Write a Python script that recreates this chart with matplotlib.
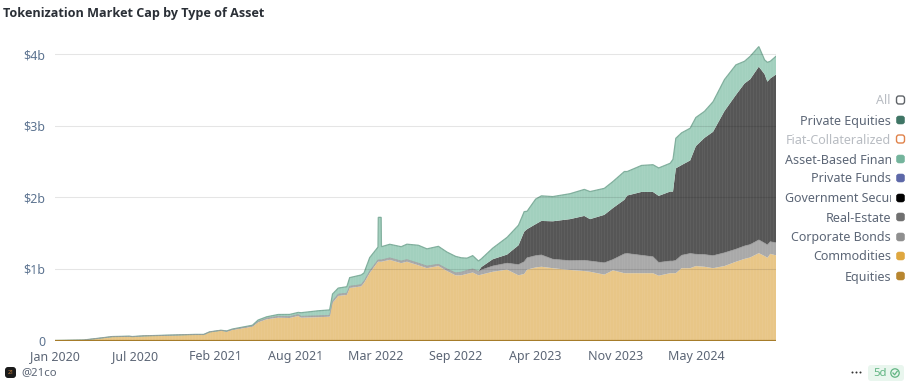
import matplotlib
matplotlib.use("Agg")
import matplotlib.pyplot as plt
import numpy as np
from matplotlib.patches import FancyBboxPatch, Circle
from matplotlib.transforms import Bbox

plt.rcParams['font.family'] = ['Noto Sans', 'DejaVu Sans']

weeks = [0,10,16,20,26,27,31,40,49,52,54,58,60,62,69,71,74,78,82,85,86,92,96,97,99,102,103,107,108,110,112.9,113,114,114.1,117,121,123,127,130,134,137,140,142,144,146,148,149,153,158,162,164,165,168,170,174,180,185,187,192,195,199,200,205,209,211,215,216,217,219,222,224,227,230,234,238,241,243,246,248,249,250,252]
commodities = [0,.005,.03,.05,.055,.05,.06,.07,.08,.08,.115,.137,.123,.147,.193,.254,.296,.318,.314,.342,.318,.325,.332,.524,.622,.636,.733,.755,.803,.943,1.10,1.10,1.10,1.10,1.126,1.08,1.10,1.05,1.01,1.04,.97,.91,.91,.93,.95,.91,.92,.96,.99,.91,.93,.99,1.02,1.03,1.01,.985,.97,.96,.92,.98,.94,.94,.94,.94,.905,.94,.94,.94,1.01,1.01,1.04,1.03,1.01,1.04,1.10,1.14,1.16,1.22,1.18,1.155,1.21,1.19]
corporate_bonds = [0,.002,.005,.005,.005,.005,.005,.005,.005,.005,.005,.006,.006,.008,.01,.012,.015,.02,.02,.02,.02,.02,.02,.025,.025,.025,.025,.025,.025,.025,.025,.025,.025,.025,.028,.03,.03,.03,.03,.025,.03,.035,.045,.05,.05,.055,.065,.08,.09,.15,.17,.165,.165,.165,.125,.13,.15,.15,.165,.15,.27,.275,.25,.23,.185,.17,.17,.18,.18,.205,.165,.17,.175,.185,.175,.18,.18,.185,.18,.18,.17,.175]
real_estate = [0]*46 + [.04,.095,.12,.27,.42,.40,.44,.475,.53,.58,.62,.585,.67,.72,.755,.81,.885,.905,.93,.97,.97,1.285,1.26,1.30,1.51,1.63,1.73,1.98,2.155,2.27,2.31,2.42,2.36,2.28,2.28,2.35]
asset_based = [0,0,0,0,0,0,0,0,0,0,0,0,.004,.005,.01,.02,.02,.025,.03,.03,.05,.07,.075,.10,.085,.09,.12,.135,.115,.19,.18,.595,.595,.185,.19,.2,.215,.25,.24,.25,.235,.23,.20,.17,.185,.145,.115,.155,.24,.28,.28,.25,.35,.35,.345,.355,.37,.385,.37,.37,.395,.335,.37,.38,.39,.395,.45,.42,.45,.45,.40,.37,.42,.44,.42,.31,.32,.28,.20,.27,.24,.255]

y_ticks = [0, 1, 2, 3, 4]
y_labels = ['0', '$1b', '$2b', '$3b', '$4b']
x_ticks = [0, 28, 56, 84, 112, 140, 168, 196, 224]
x_labels = ['Jan 2020', 'Jul 2020', 'Feb 2021', 'Aug 2021', 'Mar 2022', 'Sep 2022', 'Apr 2023', 'Nov 2023', 'May 2024']
legend_names = ['All', 'Private Equities', 'Fiat-Collateralized', 'Asset-Based Finance', 'Private Funds',
                'Government Securities', 'Real-Estate', 'Corporate Bonds', 'Commodities', 'Equities']
legend_colors = ['#5f6368', '#3f7565', '#e0824a', '#74b49c', '#5d68a8', '#000000', '#707070', '#8f8f8f', '#dfa73f', '#b8862f']
legend_on = [False, True, False, True, True, True, True, True, True, True]

W, H = 909, 382
fig = plt.figure(figsize=(W/100, H/100), dpi=100)
L, R, T, B = 55, 776, 39.8, 340.5
ax = fig.add_axes([L/W, 1-B/H, (R-L)/W, (B-T)/H])
ax.set_xlim(0, 252)
ax.set_ylim(0, 4.2)

ax.stackplot(weeks, commodities, corporate_bonds, real_estate, asset_based,
             colors=['#E8C687', '#A9A9A9', '#565656', '#A2D0BE'], linewidth=0, zorder=2)
c1 = np.array(commodities)
c2 = c1 + corporate_bonds
c3 = c2 + real_estate
c4 = c3 + asset_based
ax.fill_between(weeks, c3, c4, where=c4 > 1.5, color='none')
ax.plot(weeks, c4, color='#7FAE9C', lw=0.9, zorder=3, solid_joinstyle='miter')
ax.plot(weeks, c2, color='#9a9a9a', lw=0.5, zorder=3)
ax.vlines(np.arange(0, 253), 0, 4.2, color='white', lw=0.5, alpha=0.07, zorder=4)
ax.axhline(0, color='#A67C2A', lw=1.6, zorder=5, xmin=0, xmax=1)

for v in y_ticks[1:]:
    ax.axhline(v, color='black', lw=0.8, alpha=0.10, zorder=4)

for s in ax.spines.values():
    s.set_visible(False)
ax.patch.set_alpha(0)
ax.set_xticks(x_ticks)
ax.set_xticklabels(x_labels, fontsize=9, color='#5c6676')
ax.set_yticks(y_ticks)
ax.set_yticklabels(y_labels, fontsize=9, color='#5c7390')
ax.tick_params(length=0, pad=7)
ax.grid(False)

ov = fig.add_axes([0, 0, 1, 1], zorder=10)
ov.set_xlim(0, W)
ov.set_ylim(H, 0)
ov.axis('off')
ov.patch.set_alpha(0)

ov.text(3, 14, 'Tokenization Market Cap by Type of Asset', fontsize=9.1, fontweight='bold',
        family='Open Sans', color='#2a2f36', va='center', ha='left')

ys = [100, 120, 139, 159, 178, 198, 217, 237, 256, 276]
clip = Bbox([[785, 0], [891, H]])
for name, col, on, y in zip(legend_names, legend_colors, legend_on, ys):
    long_name = name in ('Asset-Based Finance', 'Government Securities')
    tcol = '#5c6676' if on else '#b8bcc2'
    t = ov.text(785 if long_name else 891, y + 1, name, fontsize=9, color=tcol, va='center',
                ha='left' if long_name else 'right')
    if long_name:
        t.set_clip_on(True)
        t.set_clip_box(clip)
    p = FancyBboxPatch((896.5, y-4), 8, 8, boxstyle='round,pad=0,rounding_size=2.4',
                       facecolor=col if on else 'white', edgecolor=col, lw=1.0 if not on else 0.4)
    ov.add_patch(p)

ov.add_patch(FancyBboxPatch((5, 367), 11, 11, boxstyle='round,pad=0,rounding_size=3', facecolor='#1b1b1b', edgecolor='none'))
ov.text(10.5, 372.6, '21', fontsize=4, color='#c9803a', ha='center', va='center', fontweight='bold')
ov.text(21, 372.5, '@21co', fontsize=8.2, color='#5c6676', va='center')
for x in (852.5, 856.5, 860.5):
    ov.add_patch(Circle((x, 372.5), 1.0, facecolor='#333333', edgecolor='none'))
ov.add_patch(FancyBboxPatch((868, 365), 36, 16, boxstyle='round,pad=0,rounding_size=3', facecolor='#e9f6ee', edgecolor='none'))
ov.text(873, 373, '5d', fontsize=8.2, color='#62b583', va='center')
ov.add_patch(Circle((895, 373), 4.2, facecolor='none', edgecolor='#62b583', lw=0.9))
ov.plot([893, 894.6, 897.2], [373, 374.8, 371.3], color='#62b583', lw=0.9)

fig.savefig('out.png', dpi=100)
